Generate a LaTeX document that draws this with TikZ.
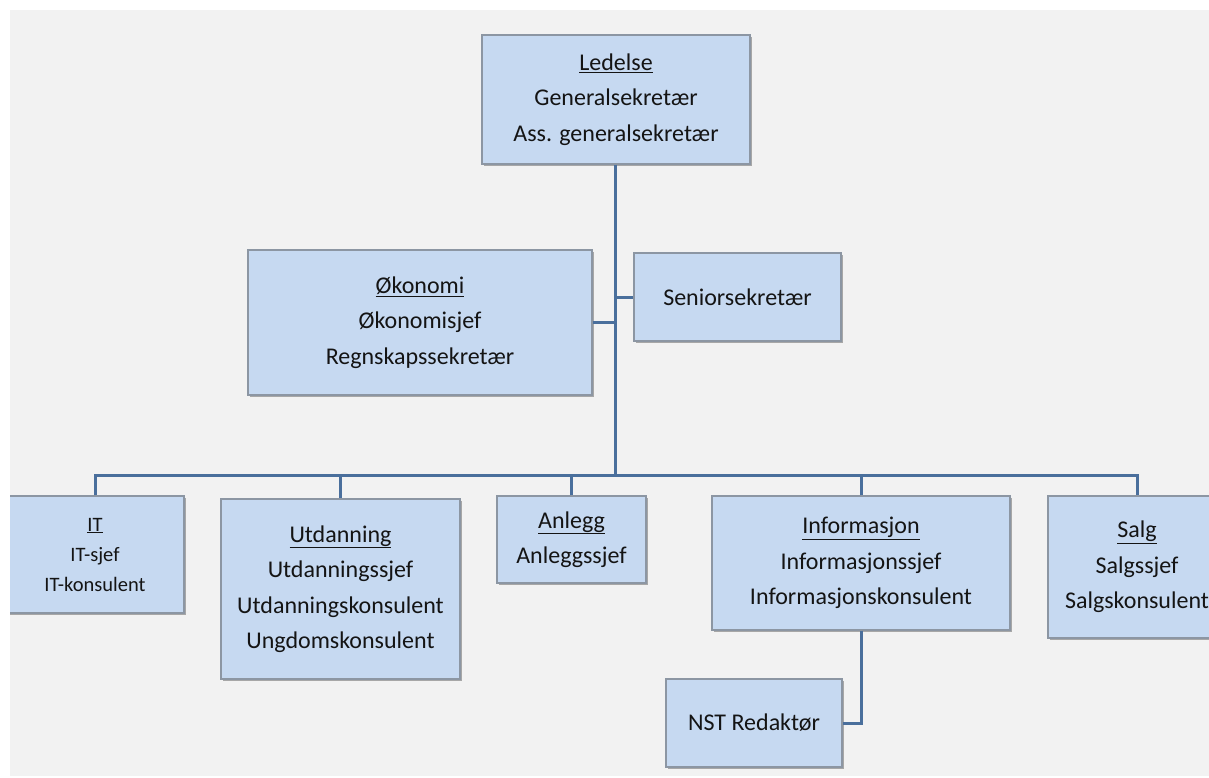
\documentclass[tikz,border=0pt]{standalone}
\usepackage{fontspec}
\setmainfont{Carlito}
\usetikzlibrary{shadows}
\definecolor{bgc}{HTML}{F2F2F2}
\definecolor{boxfill}{HTML}{C6D9F1}
\definecolor{boxline}{HTML}{8C96A3}
\definecolor{conn}{HTML}{4A6F9C}
\definecolor{txt}{HTML}{141414}
\tikzset{
  orgbox/.style={draw=boxline, line width=1.2pt, fill=boxfill, align=center, inner sep=0pt,
    text=txt, font=\fontsize{24}{35.5}\selectfont,
    drop shadow={shadow xshift=1.5pt, shadow yshift=-2pt, opacity=0.45, fill=black!70}},
  smallbox/.style={orgbox, font=\fontsize{20.5}{30}\selectfont},
  link/.style={draw=conn, line width=3pt, line join=miter}
}
\begin{document}
\begin{tikzpicture}[x=1pt,y=-1pt]
\useasboundingbox (0,0) rectangle (1209,778);
\fill[white] (0,0) rectangle (1209,778);
\fill[bgc] (10,10) rectangle (1209,776);
\begin{scope}
\clip (10,10) rectangle (1209,776);
% nodes
\node[orgbox, minimum width=268pt, minimum height=129pt] (led) at (616,99.5)
  {\underline{Ledelse}\\Generalsekretær\\Ass. generalsekretær};
\node[orgbox, minimum width=344pt, minimum height=145pt] (oko) at (420,322.5)
  {\underline{Økonomi}\\Økonomisjef\\Regnskapssekretær};
\node[orgbox, minimum width=207pt, minimum height=88pt] (sen) at (737.5,297)
  {Seniorsekretær};
\node[smallbox, minimum width=178pt, minimum height=117pt] (it) at (95,554.5)
  {\underline{IT}\\IT-sjef\\IT-konsulent};
\node[orgbox, minimum width=239pt, minimum height=180pt] (utd) at (340.5,589)
  {\underline{Utdanning}\\Utdanningssjef\\Utdanningskonsulent\\Ungdomskonsulent};
\node[orgbox, minimum width=149pt, minimum height=87pt] (anl) at (571.5,539.5)
  {\underline{Anlegg}\\Anleggssjef};
\node[orgbox, minimum width=298pt, minimum height=134pt] (inf) at (861,563)
  {\underline{Informasjon}\\Informasjonssjef\\Informasjonskonsulent};
\node[orgbox, minimum width=178pt, minimum height=142pt] (sal) at (1137,567)
  {\underline{Salg}\\Salgssjef\\Salgskonsulent};
\node[orgbox, minimum width=176pt, minimum height=88pt] (nst) at (754,723)
  {NST Redaktør};
\coordinate (bus) at (615,475);
% connectors
\draw[link] (led.south -| bus) -- (bus);
\draw[link] (oko.east) -- (oko.east -| bus);
\draw[link] (sen.west) -- (sen.west -| bus);
\draw[link] (it.north) -- (it.north |- bus) -- (sal.north |- bus) -- (sal.north);
\draw[link] (utd.north) -- (utd.north |- bus);
\draw[link] (anl.north) -- (anl.north |- bus);
\draw[link] (inf.north) -- (inf.north |- bus);
\draw[link] (inf.south) -- (inf.south |- nst.east) -- (nst.east);
\end{scope}
\end{tikzpicture}
\end{document}
